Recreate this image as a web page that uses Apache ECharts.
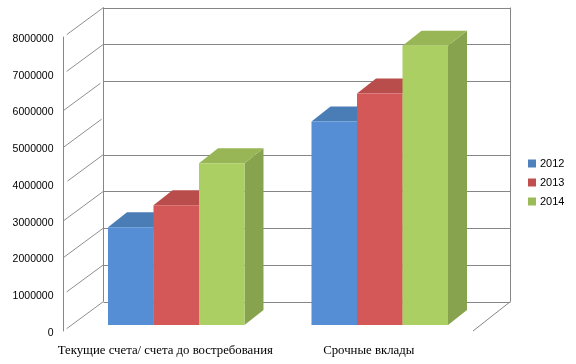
<!DOCTYPE html>
<html>
<head>
<meta charset="utf-8">
<script src="https://cdn.jsdelivr.net/npm/echarts@6/dist/echarts.min.js"></script>
<style>
  html, body { margin: 0; padding: 0; background: #fff; }
  #chart { width: 576px; height: 364px; }
</style>
</head>
<body>
<div id="chart"></div>
<script>
var categories = ['Текущие счета/ счета до востребования', 'Срочные вклады'];
var years = ['2012', '2013', '2014'];
var values2012 = [2660000, 5540000];
var values2013 = [3260000, 6300000];
var values2014 = [4400000, 7600000];
var depthTicks = [0, 1000000, 2000000, 3000000, 4000000, 5000000, 6000000, 7000000, 8000000];
// линия 5000000 на задней стенке в оригинале отсутствует
var wallTicks = [0, 1000000, 2000000, 3000000, 4000000, 6000000, 7000000, 8000000];
// на сколько укорочены диагонали в начале и в конце (доля длины), как в оригинале
var depthTrimStart = [0.08, 0.08, 0, 0, 0.1, 0, 0, 0.08, 0.08];
var depthTrimEnd = [0, 0, 0, 0, 0, 0.05, 0.08, 0, 0];

var legendColors = ['#4F81BD', '#C0504D', '#9BBB59'];
var frontColors = ['#558ED5', '#D55858', '#ABCF63'];
var topColors = ['#4A7CB6', '#B84D4B', '#98B655'];
var sideColors = ['#41689A', '#9E4341', '#87A34D'];

var WALL_DX = 40, WALL_DY = -29.5;
var BAR_DX = 11, BAR_DY = -6, BAR_DEPTH_X = 19, BAR_DEPTH_Y = -15;
var LINE_COLOR = '#868686';

function barSeries(index, values) {
  return {
    name: years[index],
    type: 'custom',
    z: 3 + index,
    itemStyle: { color: legendColors[index] },
    data: values.map(function (v, i) { return [i, v]; }),
    encode: { x: 0, y: 1 },
    renderItem: function (params, api) {
      var base = api.coord([api.value(0), 0]);
      var top = api.coord([api.value(0), api.value(1)]);
      var w = api.size([1, 0])[0] * 0.2236;
      var x0 = base[0] + BAR_DX + (index - 1.5) * w;
      var x1 = x0 + w;
      var y0 = base[1] + BAR_DY;
      var y1 = top[1] + BAR_DY;
      return {
        type: 'group',
        children: [
          { type: 'polygon', shape: { points: [[x1, y0], [x1 + BAR_DEPTH_X, y0 + BAR_DEPTH_Y], [x1 + BAR_DEPTH_X, y1 + BAR_DEPTH_Y], [x1, y1]] }, style: { fill: sideColors[index] } },
          { type: 'polygon', shape: { points: [[x0, y1], [x1, y1], [x1 + BAR_DEPTH_X, y1 + BAR_DEPTH_Y], [x0 + BAR_DEPTH_X, y1 + BAR_DEPTH_Y]] }, style: { fill: topColors[index] } },
          { type: 'rect', shape: { x: x0, y: y1, width: w, height: y0 - y1 }, style: { fill: frontColors[index] } }
        ]
      };
    }
  };
}

var myChart = echarts.init(document.getElementById('chart'));
myChart.setOption({
  animation: false,
  backgroundColor: '#ffffff',
  legend: {
    orient: 'vertical',
    left: 523,
    top: 153,
    itemWidth: 8,
    itemHeight: 8,
    itemGap: 8,
    icon: 'rect',
    data: years,
    textStyle: { fontFamily: 'Liberation Sans', fontSize: 11, color: '#000', padding: [0, 0, 0, -1] }
  },
  grid: { left: 63.5, top: 37, width: 407, height: 294 },
  xAxis: {
    type: 'category',
    data: categories,
    axisLine: { show: false },
    axisTick: { show: false },
    splitLine: { show: false },
    axisLabel: { margin: 13, interval: 0, fontFamily: 'Liberation Serif', fontSize: 12.8, color: '#000' }
  },
  yAxis: {
    type: 'value',
    min: 0,
    max: 8000000,
    interval: 1000000,
    axisLine: { show: true, lineStyle: { color: LINE_COLOR, width: 1 } },
    axisTick: { show: false },
    splitLine: { show: false },
    axisLabel: {
      margin: 10,
      formatter: function (v) { return '{t|' + v + '}'; },
      rich: {
        t: { padding: [4, 0, 0, 0], fontFamily: 'Liberation Sans', fontSize: 10.5, color: '#000' }
      }
    }
  },
  series: [
    {
      // диагонали от передней оси к задней стенке
      type: 'custom',
      silent: true,
      z: 1,
      data: depthTicks.map(function (v, i) { return [i, v]; }),
      encode: { y: 1 },
      renderItem: function (params, api) {
        var i = params.dataIndex;
        var y = api.coord([0, api.value(1)])[1];
        var left = 63.5;
        var s = depthTrimStart[i], e = 1 - depthTrimEnd[i];
        return {
          type: 'line',
          shape: { x1: left + WALL_DX * s, y1: y + WALL_DY * s, x2: left + WALL_DX * e, y2: y + WALL_DY * e },
          style: { stroke: '#8f8f8f', lineWidth: 1 }
        };
      }
    },
    {
      // задняя стенка
      type: 'custom',
      silent: true,
      z: 1,
      data: wallTicks.map(function (v) { return [0, v]; }),
      encode: { y: 1 },
      renderItem: function (params, api) {
        var y = Math.round(api.coord([0, api.value(1)])[1] + WALL_DY) + 0.5;
        return {
          type: 'line',
          shape: { x1: 63.5 + WALL_DX, y1: y, x2: 470.5 + WALL_DX, y2: y },
          style: { stroke: LINE_COLOR, lineWidth: 1 }
        };
      }
    },
    {
      // вертикали задней стенки и нижняя правая диагональ
      type: 'custom',
      silent: true,
      z: 1,
      data: [[0, 0]],
      encode: { y: 1 },
      renderItem: function (params, api) {
        var yBottom = api.coord([0, 0])[1];
        var yTop = api.coord([0, 8000000])[1];
        var lineStyle = { stroke: LINE_COLOR, lineWidth: 1 };
        return {
          type: 'group',
          children: [
            { type: 'line', shape: { x1: 103.5, y1: yTop + WALL_DY, x2: 103.5, y2: yBottom + WALL_DY }, style: lineStyle },
            { type: 'line', shape: { x1: 510.5, y1: yTop + WALL_DY, x2: 510.5, y2: yBottom + WALL_DY }, style: lineStyle },
            { type: 'line', shape: { x1: 473, y1: yBottom, x2: 510.5, y2: yBottom + WALL_DY }, style: lineStyle }
          ]
        };
      }
    },
    barSeries(0, values2012),
    barSeries(1, values2013),
    barSeries(2, values2014)
  ]
});
</script>
</body>
</html>
